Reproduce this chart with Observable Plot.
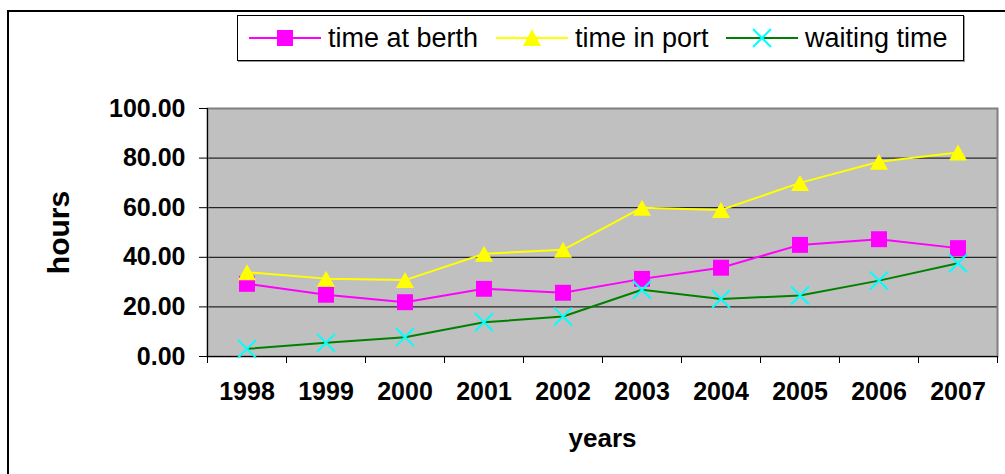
<!DOCTYPE html>
<html><head><meta charset="utf-8">
<script src="https://cdn.jsdelivr.net/npm/d3@7"></script>
<script src="https://cdn.jsdelivr.net/npm/@observablehq/plot@0.6"></script>
<style>
html,body{margin:0;padding:0;background:#fff;overflow:hidden}
#wrap{position:relative;width:1005px;height:474px;overflow:hidden;font-family:"Liberation Sans",Arial,sans-serif}
#chart{position:absolute;left:0;top:0}
#frame{position:absolute;left:7px;top:10px;width:1100px;height:600px;border-top:2px solid #000;border-left:2px solid #000;pointer-events:none}
#legend{position:absolute;left:237px;top:15px;width:725px;height:44px;border:1px solid #000;background:#fff;box-shadow:1px 1px 0 #999}
.item{position:absolute;top:0;height:44px;display:flex;align-items:center;font-size:27px;color:#000;white-space:nowrap}
.item svg{margin-right:7px;display:block}
[aria-label="y-axis label"] text{font-size:30px;font-weight:bold}
[aria-label="x-axis label"] text{font-size:26px;font-weight:bold}
</style>
</head><body>
<div id="wrap">
  <div id="chart"></div>
  <div id="frame"></div>
  <div id="legend"></div>
</div>
<script>
const years = [1998, 1999, 2000, 2001, 2002, 2003, 2004, 2005, 2006, 2007];
const berth = [29.3, 24.9, 21.9, 27.3, 25.7, 31.3, 35.8, 45.0, 47.3, 43.7];
const port = [34.0, 31.4, 30.8, 41.4, 43.0, 60.0, 59.1, 70.0, 78.5, 82.3];
const waiting = [3.1, 5.5, 7.8, 13.8, 16.1, 26.9, 23.2, 24.6, 30.6, 37.6];
const seriesNames = ["time at berth", "time in port", "waiting time"];
const yTicks = [0, 20, 40, 60, 80, 100];

const bounds = d3.range(years[0] - 0.5, years[years.length - 1] + 1, 1);
const rows = vals => years.map((year, i) => ({year, value: vals[i]}));

const tri = {draw(ctx, size) {
  const r = Math.sqrt(size / Math.PI);
  ctx.moveTo(0, -r); ctx.lineTo(1.125 * r, r); ctx.lineTo(-1.125 * r, r); ctx.closePath();
}};

const chart = Plot.plot({
  width: 1005, height: 474,
  marginTop: 108, marginBottom: 118, marginLeft: 207, marginRight: 8,
  style: {fontFamily: '"Liberation Sans", Arial, sans-serif', background: "transparent", color: "#000"},
  x: {domain: [bounds[0], bounds[bounds.length - 1]]},
  y: {domain: [0, 100]},
  marks: [
    Plot.frame({fill: "#C0C0C0"}),
    Plot.ruleY(yTicks.slice(1, -1), {stroke: "#000", strokeWidth: 1}),
    Plot.frame({stroke: "#808080", strokeWidth: 2}),
    Plot.ruleX([bounds[0]], {stroke: "#000", strokeWidth: 1}),
    Plot.ruleY([0], {stroke: "#000", strokeWidth: 1}),
    Plot.axisY({ticks: yTicks, tickFormat: d => d.toFixed(2), tickSize: 8, tickPadding: 14,
      fontSize: 25, fontWeight: "bold", label: "hours", labelAnchor: "center", labelOffset: 160, labelArrow: "none"}),
    Plot.axisX({ticks: bounds, tickSize: 7, tickFormat: () => "", label: null}),
    Plot.axisX({ticks: years, tickSize: 0, tickPadding: 26, tickFormat: d => String(d),
      fontSize: 25, fontWeight: "bold", label: "years", labelAnchor: "center", labelOffset: 90, labelArrow: "none"}),
    Plot.line(rows(berth), {x: "year", y: "value", stroke: "#FF00FF", strokeWidth: 2}),
    Plot.dot(rows(berth), {x: "year", y: "value", symbol: "square", r: 9, fill: "#FF00FF", stroke: "none"}),
    Plot.line(rows(port), {x: "year", y: "value", stroke: "#FFFF00", strokeWidth: 2}),
    Plot.dot(rows(port), {x: "year", y: "value", symbol: tri, r: 8, fill: "#FFFF00", stroke: "none"}),
    Plot.line(rows(waiting), {x: "year", y: "value", stroke: "#008000", strokeWidth: 2}),
    Plot.dot(rows(waiting), {x: "year", y: "value", symbol: "times", r: 8.2, stroke: "#00FFFF", strokeWidth: 2, fill: "none"})
  ]
});
document.getElementById("chart").appendChild(chart);

// legend
const legendItems = [
  {name: seriesNames[0], line: "#FF00FF", left: 11,
   glyph: '<rect x="28" y="7" width="16" height="16" fill="#FF00FF"/>'},
  {name: seriesNames[1], line: "#FFFF00", left: 258,
   glyph: '<path d="M36,6L45,23L27,23Z" fill="#FFFF00"/>'},
  {name: seriesNames[2], line: "#008000", left: 488,
   glyph: '<path d="M27,6L45,24M45,6L27,24" stroke="#00FFFF" stroke-width="2" fill="none"/>'}
];
const legend = document.getElementById("legend");
for (const it of legendItems) {
  const d = document.createElement("div");
  d.className = "item";
  d.style.left = it.left + "px";
  d.innerHTML = `<svg width="72" height="30"><line x1="0" x2="72" y1="15" y2="15" stroke="${it.line}" stroke-width="2"/>${it.glyph}</svg><span>${it.name}</span>`;
  legend.appendChild(d);
}
</script>
</body></html>
